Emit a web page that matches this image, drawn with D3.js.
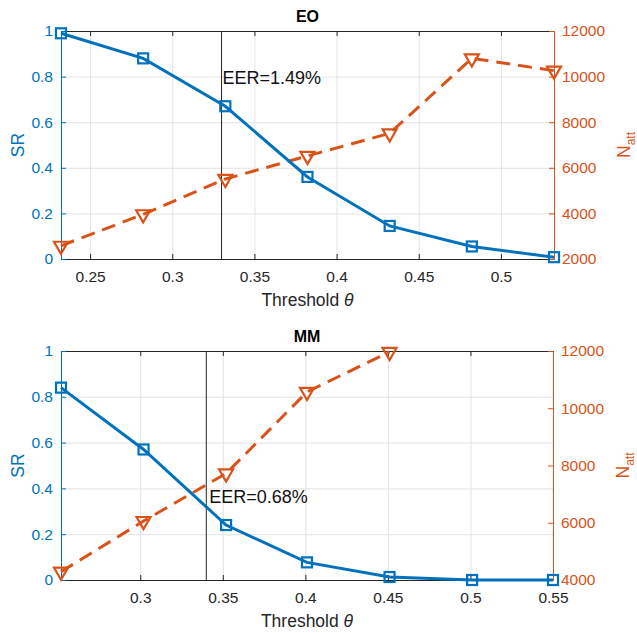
<!DOCTYPE html>
<head>
    <meta charset="utf-8">
    <script src="https://cdn.jsdelivr.net/npm/d3@7/dist/d3.min.js"></script>
    <style>
        body { margin: 0; background: #fff; }
        text { font-family: "Liberation Sans", Arial, sans-serif; }
    </style>
</head>

<body>
    <div id="container"></div>

    <script>
    // EO panel
    var thrEO  = [0.2323, 0.2823, 0.3323, 0.3823, 0.4323, 0.4823, 0.5323];
    var srEO   = [0.99, 0.88, 0.67, 0.36, 0.145, 0.055, 0.008];
    var nattEO = [2580, 3960, 5510, 6520, 7510, 10800, 10260];
    var xTicksEO = [0.25, 0.3, 0.35, 0.4, 0.45, 0.5];
    var nTicksEO = [2000, 4000, 6000, 8000, 10000, 12000];

    // MM panel (N_att beyond 12000 is off the chart)
    var thrMM  = [0.252, 0.302, 0.352, 0.401, 0.451, 0.501, 0.55];
    var srMM   = [0.84, 0.57, 0.24, 0.077, 0.013, 0.0, 0.0];
    var nattMM = [4290, 6060, 7720, 10570, 11970];
    var xTicksMM = [0.3, 0.35, 0.4, 0.45, 0.5, 0.55];
    var nTicksMM = [4000, 6000, 8000, 10000, 12000];

    var srTicks = [0, 0.2, 0.4, 0.6, 0.8, 1];
    var eerThr = [0.33, 0.34];
    var eerLabels = ["EER=1.49%", "EER=0.68%"];

    var blue = "#0072BD", orange = "#D95319", dark = "#262626";
    var tickFont = "15.5px", labelFont = "17.5px";

    var svg = d3.select("#container")
        .append("svg")
        .attr("width", 637)
        .attr("height", 633);

    function panel(opt) {
        var w = opt.right - opt.left, h = opt.bottom - opt.top;
        var g = svg.append("g").attr("transform", "translate(" + opt.left + "," + opt.top + ")");

        var x = d3.scaleLinear().domain(opt.xDomain).range([0, w]);
        var yL = d3.scaleLinear().domain([0, 1]).range([h, 0]);
        var yR = d3.scaleLinear().domain(opt.nDomain).range([h, 0]);

        // grid
        g.append("g")
            .attr("transform", "translate(0," + h + ")")
            .call(d3.axisBottom(x).tickValues(opt.xTicks).tickSize(-h).tickFormat(""))
            .call(function (s) {
                s.select(".domain").remove();
                s.selectAll("line").attr("stroke", "#e3e3e3");
            });
        g.append("g")
            .call(d3.axisLeft(yL).tickValues(srTicks).tickSize(-w).tickFormat(""))
            .call(function (s) {
                s.select(".domain").remove();
                s.selectAll("line").attr("stroke", "#e3e3e3");
            });

        // top box line with inward ticks
        g.append("g")
            .call(d3.axisTop(x).tickValues(opt.xTicks).tickSizeInner(-5).tickSizeOuter(0).tickFormat(""))
            .call(function (s) {
                s.selectAll("path, line").attr("stroke", dark);
            });

        // bottom axis
        g.append("g")
            .attr("transform", "translate(0," + h + ")")
            .call(d3.axisBottom(x).tickValues(opt.xTicks).tickSizeInner(-5).tickSizeOuter(0)
                .tickPadding(12).tickFormat(function (d) { return +d.toFixed(2); }))
            .call(function (s) {
                s.selectAll("path, line").attr("stroke", dark);
                s.selectAll("text").attr("fill", dark).style("font-size", tickFont);
            });

        // left axis
        g.append("g")
            .call(d3.axisLeft(yL).tickValues(srTicks).tickSizeInner(-5).tickSizeOuter(0)
                .tickPadding(8).tickFormat(function (d) { return +d.toFixed(1); }))
            .call(function (s) {
                s.selectAll("path, line").attr("stroke", blue);
                s.selectAll("text").attr("fill", blue).style("font-size", tickFont);
            });

        // right axis
        g.append("g")
            .attr("transform", "translate(" + w + ",0)")
            .call(d3.axisRight(yR).tickValues(opt.nTicks).tickSizeInner(-5).tickSizeOuter(0)
                .tickPadding(8).tickFormat(d3.format("d")))
            .call(function (s) {
                s.selectAll("path, line").attr("stroke", orange);
                s.selectAll("text").attr("fill", orange).style("font-size", tickFont);
            });

        // EER line
        g.append("line")
            .attr("x1", x(opt.eer)).attr("x2", x(opt.eer))
            .attr("y1", 0).attr("y2", h)
            .attr("stroke", dark).attr("stroke-width", 1);
        g.append("text")
            .attr("x", x(opt.eer) + opt.labelDx)
            .attr("y", yL(opt.labelY))
            .attr("dy", "0.35em")
            .attr("fill", "#111")
            .style("font-size", "18px")
            .text(opt.eerLabel);

        // N_att dashed line
        var nPts = opt.natt.map(function (v, i) { return [opt.thr[i], v]; });
        g.append("path")
            .datum(nPts)
            .attr("fill", "none")
            .attr("stroke", orange)
            .attr("stroke-width", 3)
            .attr("stroke-dasharray", "14,8")
            .attr("d", d3.line().x(function (d) { return x(d[0]); }).y(function (d) { return yR(d[1]); }));
        g.selectAll(".tri")
            .data(nPts)
            .enter().append("path")
            .attr("transform", function (d) { return "translate(" + x(d[0]) + "," + yR(d[1]) + ") rotate(180)"; })
            .attr("d", d3.symbol().type(d3.symbolTriangle).size(85))
            .attr("fill", "none")
            .attr("stroke", orange)
            .attr("stroke-width", 2.2);

        // SR solid line
        var sPts = opt.sr.map(function (v, i) { return [opt.thr[i], v]; });
        g.append("path")
            .datum(sPts)
            .attr("fill", "none")
            .attr("stroke", blue)
            .attr("stroke-width", 3)
            .attr("d", d3.line().x(function (d) { return x(d[0]); }).y(function (d) { return yL(d[1]); }));
        g.selectAll(".sq")
            .data(sPts)
            .enter().append("rect")
            .attr("x", function (d) { return x(d[0]) - 5; })
            .attr("y", function (d) { return yL(d[1]) - 5; })
            .attr("width", 10).attr("height", 10)
            .attr("fill", "none")
            .attr("stroke", blue)
            .attr("stroke-width", 2.2);

        // labels
        g.append("text")
            .attr("x", w / 2).attr("y", -9)
            .attr("text-anchor", "middle")
            .attr("fill", "#000")
            .style("font-size", "16px")
            .style("font-weight", "bold")
            .text(opt.title);

        var xl = g.append("text")
            .attr("x", w / 2).attr("y", h + 41)
            .attr("dy", "0.35em")
            .attr("text-anchor", "middle")
            .attr("fill", dark)
            .style("font-size", labelFont);
        xl.append("tspan").text("Threshold ");
        xl.append("tspan").style("font-style", "italic").text("θ");

        g.append("text")
            .attr("transform", "translate(-37," + (h / 2) + ") rotate(-90)")
            .attr("text-anchor", "middle")
            .attr("fill", blue)
            .style("font-size", labelFont)
            .text("SR");

        var rl = g.append("text")
            .attr("transform", "translate(" + (w + 76) + "," + (h / 2) + ") rotate(-90)")
            .attr("text-anchor", "middle")
            .attr("fill", orange)
            .style("font-size", labelFont);
        rl.append("tspan").text("N");
        rl.append("tspan").attr("dy", 5).style("font-size", "12px").text("att");
    }

    panel({
        left: 61, right: 554, top: 31, bottom: 259,
        xDomain: [0.2323, 0.5323], xTicks: xTicksEO,
        nDomain: [2000, 12000], nTicks: nTicksEO,
        thr: thrEO, sr: srEO, natt: nattEO,
        eer: eerThr[0], eerLabel: eerLabels[0], labelDx: 1, labelY: 0.795,
        title: "EO"
    });

    panel({
        left: 61, right: 553, top: 351, bottom: 580,
        xDomain: [0.252, 0.55], xTicks: xTicksMM,
        nDomain: [4000, 12000], nTicks: nTicksMM,
        thr: thrMM, sr: srMM, natt: nattMM,
        eer: eerThr[1], eerLabel: eerLabels[1], labelDx: 3, labelY: 0.362,
        title: "MM"
    });
    </script>
</body>
